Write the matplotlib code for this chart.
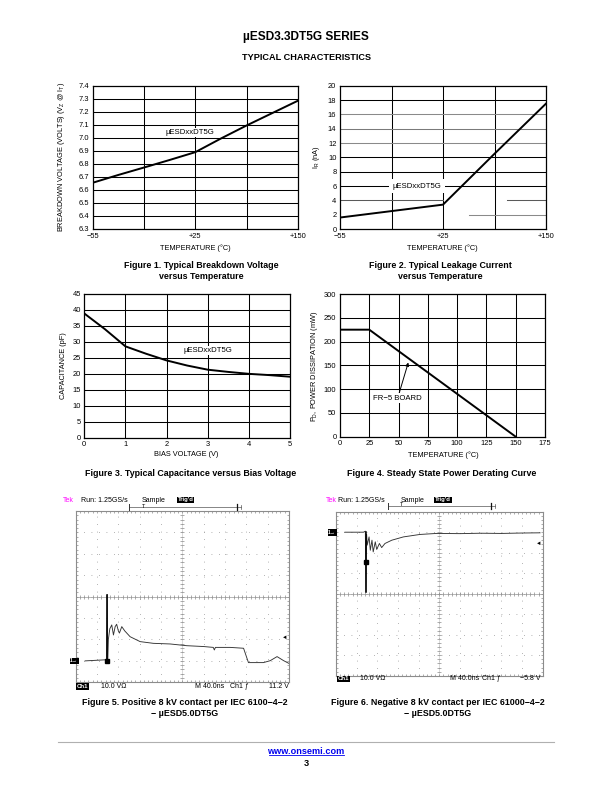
import numpy as np
import matplotlib
matplotlib.use('Agg')
import matplotlib.pyplot as plt

plt.rcParams['font.family'] = ['Liberation Sans', 'DejaVu Sans']

W, H = 612, 792

# ---------------- data ----------------
page_title = 'µESD3.3DT5G SERIES'
section_title = 'TYPICAL CHARACTERISTICS'
footer_url = 'www.onsemi.com'
page_number = '3'

# Figure 1 - breakdown voltage vs temperature (grid has 4 equal columns)
temp_labels = ['−55', '+25', '+150']
breakdown_v = [6.655, 6.715, 6.772, 6.83, 6.89, 6.995, 7.095, 7.19, 7.285]
bv_ticks = [6.3, 6.4, 6.5, 6.6, 6.7, 6.8, 6.9, 7.0, 7.1, 7.2, 7.3, 7.4]

# Figure 2 - leakage current vs temperature
leakage_na = [1.6, 2.5, 3.4, 10.5, 17.5]
leak_ticks = [0, 2, 4, 6, 8, 10, 12, 14, 16, 18, 20]

# Figure 3 - capacitance vs bias
bias_v = [0, 0.5, 1, 1.5, 2, 2.5, 3, 3.5, 4, 4.5, 5]
capacitance_pf = [38.9, 34.0, 28.6, 26.3, 24.2, 22.6, 21.3, 20.6, 20.0, 19.6, 19.1]
cap_ticks = [0, 5, 10, 15, 20, 25, 30, 35, 40, 45]

# Figure 4 - power derating
pd_temp = [0, 25, 150]
pd_mw = [225, 225, 0]
pd_xticks = [0, 25, 50, 75, 100, 125, 150, 175]
pd_yticks = [0, 50, 100, 150, 200, 250, 300]

# Figure 5 - positive ESD scope trace (divisions)
fig5_t = [0.44, 1.38, 1.45, 1.48, 1.50, 1.53, 1.60, 1.69, 1.77, 1.85, 1.92, 2.0, 2.05,
          2.16, 2.3, 2.55, 3.02, 3.64, 4.43, 5.2, 6.0, 6.45, 6.5, 6.55, 7.24, 7.87,
          8.03, 8.1, 8.8, 9.12, 9.44, 9.75, 9.98]
fig5_v = [-3.0, -2.95, -2.95, 0.1, -2.9, -2.0, -1.5, -1.32, -1.79, -1.4, -1.29, -1.6, -1.7,
          -1.4, -1.6, -1.87, -2.1, -2.18, -2.21, -2.29, -2.33, -2.37, -2.49, -2.37, -2.37, -2.41,
          -2.88, -3.08, -3.08, -2.99, -2.8, -2.99, -3.11]
fig5_trig_level = -1.91
fig5_text = ['Ch1', '10.0 VΩ', 'M 40.0ns', 'Ch1 ƒ', '11.2 V']

# Figure 6 - negative ESD scope trace (divisions)
fig6_t = [0.43, 1.33, 1.42, 1.45, 1.48, 1.51, 1.6, 1.66, 1.74, 1.8, 1.9, 1.97, 2.1, 2.21,
          2.37, 2.7, 3.26, 4.06, 4.87, 6.0, 7.0, 8.0, 9.0, 9.87]
fig6_v = [3.0, 3.0, 3.05, 0.08, 2.9, 2.37, 2.77, 2.12, 2.61, 2.04, 2.53, 2.16, 2.45, 2.25,
          2.45, 2.61, 2.77, 2.89, 2.94, 2.93, 2.95, 2.94, 2.96, 2.97]
fig6_trig_level = 2.45
fig6_text = ['Ch1', '10.0 VΩ', 'M 40.0ns', 'Ch1 ƒ', '−5.8 V']

captions = {
    1: ['Figure 1. Typical Breakdown Voltage', 'versus Temperature'],
    2: ['Figure 2. Typical Leakage Current', 'versus Temperature'],
    3: ['Figure 3. Typical Capacitance versus Bias Voltage'],
    4: ['Figure 4. Steady State Power Derating Curve'],
    5: ['Figure 5. Positive 8 kV contact per IEC 6100−4−2', '− µESD5.0DT5G'],
    6: ['Figure 6. Negative 8 kV contact per IEC 61000−4−2', '− µESD5.0DT5G'],
}

# ---------------- figure ----------------
fig = plt.figure(figsize=(W / 100, H / 100), dpi=100)
fig.patch.set_facecolor('white')


def px_axes(l, t, r, b):
    return fig.add_axes([l / W, 1 - b / H, (r - l) / W, (b - t) / H])


page = fig.add_axes([0, 0, 1, 1])
page.set_xlim(0, W)
page.set_ylim(H, 0)
page.axis('off')
page.set_zorder(10)
page.patch.set_alpha(0)

TICK_FS = 5.4
LAB_FS = 5.3
CAP_FS = 6.4


def style_chart(ax, xlim, ylim, xgrid, ygrid, xticks, xlabels, yticks, ylabels):
    ax.set_xlim(*xlim)
    ax.set_ylim(*ylim)
    for g in xgrid:
        ax.axvline(g, color='black', lw=0.75, zorder=1)
    for g in ygrid:
        ax.axhline(g, color='black', lw=0.75, zorder=1)
    ax.set_xticks(xticks)
    ax.set_xticklabels(xlabels)
    ax.set_yticks(yticks)
    ax.set_yticklabels(ylabels)
    ax.tick_params(length=0, labelsize=TICK_FS, pad=2.6)
    for s in ax.spines.values():
        s.set_linewidth(0.9)


# ---- Figure 1
ax1 = px_axes(92.7, 85.7, 298, 229)
n1 = len(breakdown_v)
x1 = np.linspace(0, 4, n1)
style_chart(ax1, (0, 4), (bv_ticks[0], bv_ticks[-1]), [1, 2, 3], bv_ticks[1:-1],
            [0, 2, 4], temp_labels, bv_ticks, ['%.1f' % v for v in bv_ticks])
ax1.plot(x1, breakdown_v, color='black', lw=1.4, zorder=3)
ax1.text(1.9, 7.04, 'µESDxxDT5G', ha='center', va='center', fontsize=5.6,
         bbox=dict(facecolor='white', edgecolor='none', pad=1.0), zorder=4)

# ---- Figure 2
ax2 = px_axes(340, 85.7, 546, 229)
x2 = np.arange(len(leakage_na))
ax2.set_xlim(0, 4)
ax2.set_ylim(0, 20)
for g in [1, 2, 3]:
    ax2.axvline(g, color='black', lw=0.75, zorder=1)
grid2_color = {2: '#8a8a8a', 4: '#5a5a5a', 6: 'black', 8: 'black', 10: 'black',
               12: '#8a8a8a', 14: '#7a7a7a', 16: '#8a8a8a', 18: 'black'}
for g, c in grid2_color.items():
    if g == 2:
        ax2.plot([2.5, 4], [g, g], color=c, lw=0.75, zorder=1)
    elif g == 4:
        ax2.plot([0, 2], [g, g], color=c, lw=0.75, zorder=1)
        ax2.plot([3.25, 4], [g, g], color=c, lw=0.75, zorder=1)
    else:
        ax2.axhline(g, color=c, lw=0.75, zorder=1)
ax2.set_xticks([0, 2, 4])
ax2.set_xticklabels(temp_labels)
ax2.set_yticks(leak_ticks)
ax2.set_yticklabels([str(v) for v in leak_ticks])
ax2.tick_params(length=0, labelsize=TICK_FS, pad=2.6)
for s in ax2.spines.values():
    s.set_linewidth(0.9)
ax2.plot(x2, leakage_na, color='black', lw=1.4, zorder=3)
ax2.text(1.5, 6.0, 'µESDxxDT5G', ha='center', va='center', fontsize=5.6,
         bbox=dict(facecolor='white', edgecolor='none', pad=2.5), zorder=4)

# ---- Figure 3
ax3 = px_axes(84.3, 294, 290, 437.7)
style_chart(ax3, (0, 5), (0, 45), [1, 2, 3, 4], cap_ticks[1:-1],
            [0, 1, 2, 3, 4, 5], ['0', '1', '2', '3', '4', '5'],
            cap_ticks, [str(v) for v in cap_ticks])
ax3.plot(bias_v, capacitance_pf, color='black', lw=1.4, zorder=3)
ax3.text(3.0, 27.3, 'µESDxxDT5G', ha='center', va='center', fontsize=5.6,
         bbox=dict(facecolor='white', edgecolor='none', pad=1.0), zorder=4)

# ---- Figure 4
ax4 = px_axes(340, 294, 545, 436.7)
style_chart(ax4, (0, 175), (0, 300), pd_xticks[1:-1], pd_yticks[1:-1],
            pd_xticks, [str(v) for v in pd_xticks], pd_yticks, [str(v) for v in pd_yticks])
ax4.plot(pd_temp, pd_mw, color='black', lw=1.4, zorder=3)
ax4.annotate('FR−5 BOARD', xy=(58.3, 156), xytext=(49.2, 80.7), ha='center', va='center',
             fontsize=5.6, zorder=4,
             bbox=dict(facecolor='white', edgecolor='none', pad=1.0),
             arrowprops=dict(arrowstyle='-|>', lw=0.7, color='black', mutation_scale=5,
                             shrinkA=0, shrinkB=0))

# axis labels (page coordinates)
page.text(61.7, 157, 'BREAKDOWN VOLTAGE (VOLTS) (V$_{\\mathregular{Z}}$ @ I$_{\\mathregular{T}}$)',
          rotation=90, ha='center', va='center', fontsize=LAB_FS)
page.text(195, 248.3, 'TEMPERATURE (°C)', ha='center', va='center', fontsize=LAB_FS)
page.text(316, 157, 'I$_{\\mathregular{R}}$ (nA)', rotation=90, ha='center', va='center', fontsize=LAB_FS)
page.text(442.5, 248.3, 'TEMPERATURE (°C)', ha='center', va='center', fontsize=LAB_FS)
page.text(63.3, 366, 'CAPACITANCE (pF)', rotation=90, ha='center', va='center', fontsize=LAB_FS)
page.text(186.3, 455, 'BIAS VOLTAGE (V)', ha='center', va='center', fontsize=LAB_FS)
page.text(315, 366, 'P$_{\\mathregular{D}}$, POWER DISSIPATION (mW)', rotation=90,
          ha='center', va='center', fontsize=LAB_FS)
page.text(443, 455, 'TEMPERATURE (°C)', ha='center', va='center', fontsize=LAB_FS)


# ---- oscilloscope screens
def scope(ax, t, v, trig_level):
    ax.set_xlim(0, 10)
    ax.set_ylim(-4, 4)
    ax.set_xticks([])
    ax.set_yticks([])
    for s in ax.spines.values():
        s.set_color('#8c8c8c')
        s.set_linewidth(0.8)
    dots = (0, (1, 8))
    for i in range(1, 10):
        ax.axvline(i, color='#9a9a9a', lw=0.6, ls=dots, zorder=1)
    for j in range(-3, 4):
        ax.axhline(j, color='#9a9a9a', lw=0.6, ls=dots, zorder=1)
    xs = np.arange(0, 10.001, 0.2)
    ys = np.arange(-4, 4.001, 0.2)
    ax.axhline(0, color='#9a9a9a', lw=0.5, zorder=1)
    ax.axvline(5, color='#bdbdbd', lw=0.4, zorder=1)
    tick = dict(ls='none', color='#8c8c8c', mew=0.5, zorder=1)
    ax.plot(xs, np.zeros_like(xs), marker='|', ms=2.5, **tick)
    ax.plot(np.full_like(ys, 5), ys, marker='_', ms=2.5, **tick)
    ax.plot(xs, np.full_like(xs, 4), marker='|', ms=2.5, **tick)
    ax.plot(xs, np.full_like(xs, -4), marker='|', ms=2.5, **tick)
    ax.plot(np.zeros_like(ys), ys, marker='_', ms=2.5, **tick)
    ax.plot(np.full_like(ys, 10), ys, marker='_', ms=2.5, **tick)
    ax.plot(t, v, color='#333333', lw=0.65, zorder=3)
    k = int(np.argmax(np.abs(np.array(v) - v[0])))
    ax.plot([t[k], t[k]], [v[0], v[k]], color='black', lw=1.1, zorder=4)
    ax.plot([t[k]], [(v[0] + v[k]) / 2 if v[0] > 0 else v[0]], marker='s', ms=3.2,
            color='black', zorder=5)
    ax.text(9.93, trig_level, '◄', ha='right', va='center', fontsize=4, color='black', zorder=5)


ax5 = px_axes(75.7, 511, 289, 682.3)
scope(ax5, fig5_t, fig5_v, fig5_trig_level)
ax6 = px_axes(336, 511.7, 542.7, 675.7)
scope(ax6, fig6_t, fig6_v, fig6_trig_level)

SC_FS = 5.0
box = dict(facecolor='black', edgecolor='none', pad=0.6)


def scope_text(tek_x, run_x, sample_x, trig_x, y, bar_l, bar_t, bar_r, bar_y,
               gnd_x, gnd_y, bottom, bottom_y, bx):
    page.text(tek_x, y, 'Tek', color='#ff00ff', fontsize=SC_FS, ha='left', va='center')
    page.text(run_x, y, 'Run: 1.25GS/s', fontsize=SC_FS, ha='left', va='center')
    page.text(sample_x, y, 'Sample', fontsize=SC_FS, ha='left', va='center')
    page.text(trig_x, y, "Trig'd", fontsize=4.2, ha='left', va='center', color='white',
              fontweight='bold', bbox=box)
    page.plot([bar_l, bar_r + 4], [bar_y, bar_y], color='#555', lw=0.5)
    page.plot([bar_l, bar_l], [bar_y - 3, bar_y + 3], color='#333', lw=0.7)
    page.plot([bar_r, bar_r], [bar_y - 3, bar_y + 3], color='#111', lw=0.9)
    page.plot([bar_r + 4, bar_r + 4], [bar_y - 2, bar_y + 2], color='#555', lw=0.5)
    page.text(bar_t, bar_y - 0.5, 'T', fontsize=4, ha='center', va='center')
    page.text(gnd_x, gnd_y, '1→', fontsize=3.6, ha='left', va='center', color='white',
              fontweight='bold', bbox=dict(facecolor='black', edgecolor='none', pad=0.5))
    page.text(bx[0], bottom_y, bottom[0], fontsize=4.4, ha='left', va='center', color='white',
              fontweight='bold', bbox=box)
    page.text(bx[1], bottom_y, bottom[1], fontsize=SC_FS, ha='left', va='center')
    page.text(bx[2], bottom_y, bottom[2], fontsize=SC_FS, ha='left', va='center')
    page.text(bx[3], bottom_y, bottom[3], fontsize=SC_FS, ha='left', va='center')
    page.text(bx[4], bottom_y, bottom[4], fontsize=SC_FS, ha='right', va='center')


scope_text(63, 81, 142, 177.5, 500, 129, 144, 236.7, 507, 70.2, 660.7,
           fig5_text, 686.7, [77, 100.7, 195, 230, 288.5])
scope_text(326, 338.3, 400.7, 435, 500, 388.3, 401.7, 490.7, 505.5, 328.2, 532.3,
           fig6_text, 679, [338, 360, 450, 481.7, 540.5])

# ---- captions
cap_pos = {1: (201.5, 265), 2: (440.8, 265), 3: (191, 473.3), 4: (442, 473.3),
           5: (185, 702.8), 6: (438, 702.3)}
for k, lines in captions.items():
    cx, cy = cap_pos[k]
    for i, line in enumerate(lines):
        page.text(cx, cy + i * 11.2, line, ha='center', va='center', fontsize=CAP_FS,
                  fontweight='bold')

# ---- header / footer
page.text(306, 37, page_title, ha='center', va='center', fontsize=8.6, fontweight='bold')
page.text(306, 57.5, section_title, ha='center', va='center', fontsize=6.6, fontweight='bold')
page.plot([58, 554], [742, 742], color='#b0b0b0', lw=0.8)
t_url = page.text(306, 751, footer_url, ha='center', va='center', fontsize=6.6,
                  fontweight='bold', color='#0000ee')
page.plot([268.5, 343.5], [755.2, 755.2], color='#0000ee', lw=0.6)
page.text(306, 763, page_number, ha='center', va='center', fontsize=6.6, fontweight='bold')

fig.savefig('out.png', dpi=100, facecolor='white')
